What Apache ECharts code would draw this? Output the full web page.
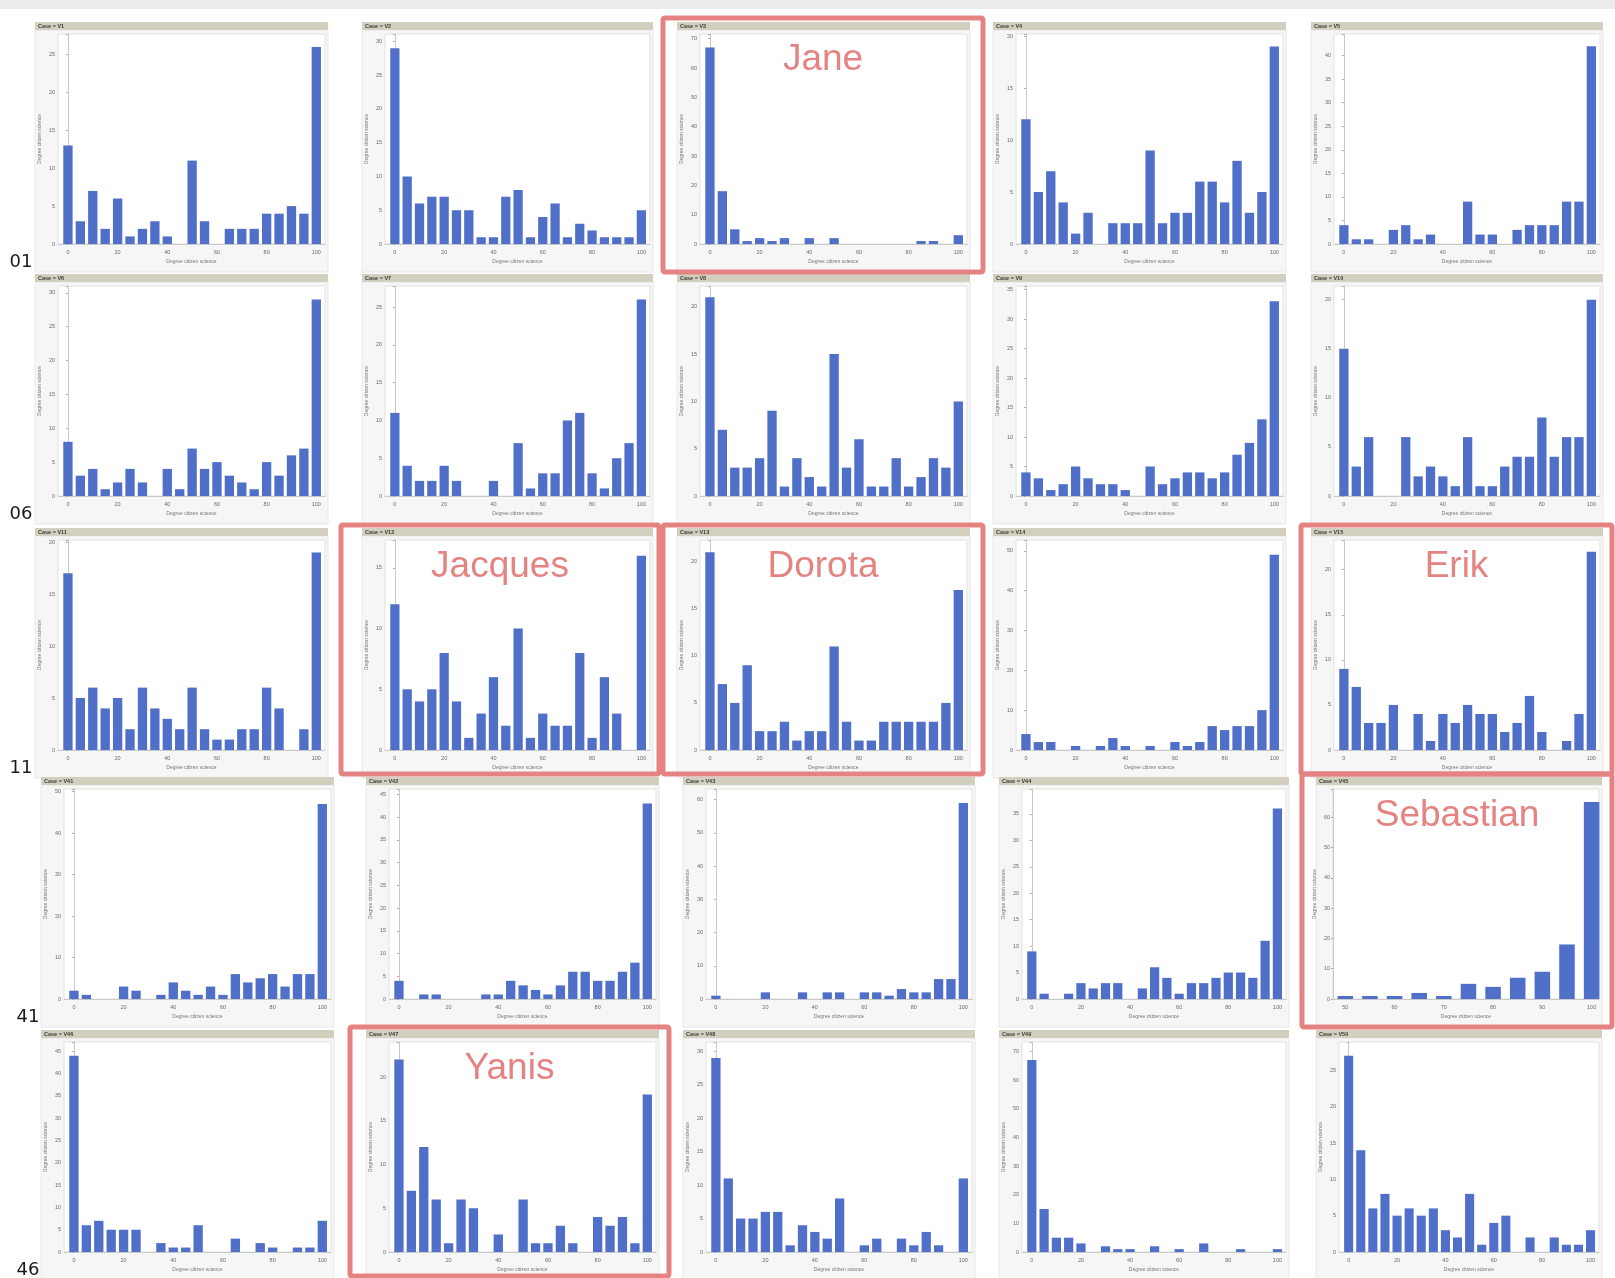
<!DOCTYPE html>
<html><head><meta charset="utf-8">
<script src="https://cdn.jsdelivr.net/npm/echarts@6/dist/echarts.min.js"></script>
<style>html,body{margin:0;padding:0;background:#fff}#c{width:1615px;height:1278px}</style>
</head><body><div id="c"></div>
<script>
// ---------- DATA ----------
const bins = [0,5,10,15,20,25,30,35,40,45,50,55,60,65,70,75,80,85,90,95,100];
const binsV45 = [50,55,60,65,70,75,80,85,90,95,100];
const xTicks = [0,20,40,60,80,100];
const xTicksV45 = [50,60,70,80,90,100];
const caseNames = ['V1','V2','V3','V4','V5','V6','V7','V8','V9','V10','V11','V12','V13','V14','V15',
                   'V41','V42','V43','V44','V45','V46','V47','V48','V49','V50'];
const rowLabels = ['01','06','11','41','46'];
const axisTitle = 'Degree citizen science';

const V1  = [13,3,7,2,6,1,2,3,1,0,11,3,0,2,2,2,4,4,5,4,26];
const V2  = [29,10,6,7,7,5,5,1,1,7,8,1,4,6,1,3,2,1,1,1,5];
const V3  = [67,18,5,1,2,1,2,0,2,0,2,0,0,0,0,0,0,1,1,0,3];
const V4  = [12,5,7,4,1,3,0,2,2,2,9,2,3,3,6,6,4,8,3,5,19];
const V5  = [4,1,1,0,3,4,1,2,0,0,9,2,2,0,3,4,4,4,9,9,42];
const V6  = [8,3,4,1,2,4,2,0,4,1,7,4,5,3,2,1,5,3,6,7,29];
const V7  = [11,4,2,2,4,2,0,0,2,0,7,1,3,3,10,11,3,1,5,7,26];
const V8  = [21,7,3,3,4,9,1,4,2,1,15,3,6,1,1,4,1,2,4,3,10];
const V9  = [4,3,1,2,5,3,2,2,1,0,5,2,3,4,4,3,4,7,9,13,33];
const V10 = [15,3,6,0,0,6,2,3,2,1,6,1,1,3,4,4,8,4,6,6,20];
const V11 = [17,5,6,4,5,2,6,4,3,2,6,2,1,1,2,2,6,4,0,2,19];
const V12 = [12,5,4,5,8,4,1,3,6,2,10,1,3,2,2,8,1,6,3,0,16];
const V13 = [21,7,5,9,2,2,3,1,2,2,11,3,1,1,3,3,3,3,3,5,17];
const V14 = [4,2,2,0,1,0,1,3,1,0,1,0,2,1,2,6,5,6,6,10,49];
const V15 = [9,7,3,3,5,0,4,1,4,3,5,4,4,2,3,6,2,0,1,4,22];
const V41 = [2,1,0,0,3,2,0,1,4,2,1,3,1,6,4,5,6,3,6,6,47];
const V42 = [4,0,1,1,0,0,0,1,1,4,3,2,1,3,6,6,4,4,6,8,43];
const V43 = [1,0,0,0,2,0,0,2,0,2,2,0,2,2,1,3,2,2,6,6,59];
const V44 = [9,1,0,1,3,2,3,3,0,2,6,4,1,3,3,4,5,5,4,11,36];
const V45 = [1,1,1,2,1,5,4,7,9,18,65];
const V46 = [44,6,7,5,5,5,0,2,1,1,6,0,0,3,0,2,1,0,1,1,7];
const V47 = [22,7,12,6,1,6,5,0,2,0,6,1,1,3,1,0,4,3,4,1,18];
const V48 = [29,11,5,5,6,6,1,4,3,2,8,0,1,2,0,2,1,3,1,0,11];
const V49 = [67,15,5,5,3,0,2,1,1,0,2,0,1,0,3,0,0,1,0,0,1];
const V50 = [27,14,6,8,5,6,5,6,3,2,8,1,4,5,0,2,0,2,1,1,3];

// y-axis tick step and top of each panel's value axis
const yStep = [5,5,10,5,5, 5,5,5,5,5, 5,5,5,10,5, 10,5,10,5,10, 5,5,5,10,5];
const yMax  = [27.7,31.1,71.6,20.2,44.6, 31,27.8,22.2,35.6,21.4, 20.2,17.3,22.3,52.7,23.3, 50.6,46.2,63.2,39.7,69.3, 47.1,24,31.4,73.3,28.9];

const highlightNames = {V3:'Jane', V12:'Jacques', V13:'Dorota', V15:'Erik', V45:'Sebastian', V47:'Yanis'};

const panelValues = [V1,V2,V3,V4,V5,V6,V7,V8,V9,V10,V11,V12,V13,V14,V15,V41,V42,V43,V44,V45,V46,V47,V48,V49,V50];

// ---------- LAYOUT ----------
const rowTop = [22, 274, 528, 777, 1030];
const colLeftA = [35, 362, 677, 993, 1311];
const colLeftB = [41, 366, 683, 999, 1316];
const colWidthA = [293, 291, 293, 293, 292];
const colWidthB = [293, 293, 292, 290, 286];
const boxRects = {
  V3:  [663, 18, 320, 254],
  V12: [341, 525, 318, 249],
  V13: [663, 525, 320, 249],
  V15: [1301, 525, 311, 249],
  V45: [1302, 774, 310, 253],
  V47: [350, 1027, 319, 249]
};
const BAR = '#4f6fc8';
const RED = '#e58383';
const FONT = 'Liberation Sans, Arial, sans-serif';

const chart = echarts.init(document.getElementById('c'), null, {renderer:'canvas'});
const grids = [], xAxes = [], yAxes = [], series = [], graphics = [];

graphics.push({type:'rect', shape:{x:0,y:0,width:1615,height:9}, style:{fill:'#ececec'}, z:-5, silent:true});

panelValues.forEach((vals, i) => {
  const r = Math.floor(i / 5), c = i % 5;
  const pl = r < 3 ? colLeftA[c] : colLeftB[c];
  const pw = r < 3 ? colWidthA[c] : colWidthB[c];
  const top = rowTop[r];
  const name = caseNames[i];
  const isHigh = name === 'V45';
  const xb = isHigh ? binsV45 : bins;
  const xmin = isHigh ? 47.5 : -4;
  const xmax = isHigh ? 101.5 : 103.5;
  const xint = isHigh ? 2.5 : 4;
  const ticks = isHigh ? xTicksV45 : xTicks;
  const gl = pl + (isHigh ? 17 : 23);
  const gr = pl + pw - 3;
  const gw = gr - gl;
  const gt = top + 12;
  const gh = 210;
  const pxPerUnit = gw / (xmax - xmin);
  const barW = (isHigh ? 0.63 : 0.75) * 5 * pxPerUnit;

  graphics.push({type:'rect', shape:{x:pl, y:top+8, width:pw, height:242}, style:{fill:'#f6f6f6', stroke:'#e8e8e8', lineWidth:1}, z:-4, silent:true});
  graphics.push({type:'rect', shape:{x:gl, y:gt, width:gw, height:gh}, style:{fill:'#ffffff', stroke:'#e2e2e2', lineWidth:1}, z:-3, silent:true});
  graphics.push({type:'rect', shape:{x:pl, y:top, width:pw, height:8}, style:{fill:'#d3cfbe'}, z:-2, silent:true});
  graphics.push({type:'text', x:pl+3, y:top+4, style:{text:'Case = ' + name, fontSize:5.5, fontWeight:'bold', fill:'#3a3a3a', fontFamily:FONT, verticalAlign:'middle'}, z:1, silent:true});

  grids.push({left:gl, top:gt, width:gw, height:gh, show:false, containLabel:false});
  xAxes.push({
    gridIndex:i, type:'value', min:xmin, max:xmax, interval:xint,
    axisLine:{show:true, onZero:false, lineStyle:{color:'#c9c9c9', width:1}},
    axisTick:{show:false}, splitLine:{show:false},
    axisLabel:{fontSize:5.5, color:'#6a6a6a', margin:5, fontFamily:FONT,
      formatter:v => ticks.some(t => Math.abs(t - v) < 1e-6) ? String(Math.round(v)) : ''},
    name:axisTitle, nameLocation:'middle', nameGap:15,
    nameTextStyle:{fontSize:5, color:'#777', fontFamily:FONT}
  });
  const step = yStep[i];
  yAxes.push({
    gridIndex:i, type:'value', min:0, max:yMax[i], interval:step,
    axisLine:{show:true, lineStyle:{color:'#c9c9c9', width:1}},
    axisTick:{show:true, length:2, lineStyle:{color:'#aaa'}}, splitLine:{show:false},
    axisLabel:{fontSize:5.5, color:'#6a6a6a', margin:3, fontFamily:FONT,
      formatter:v => Math.abs(v/step - Math.round(v/step)) < 1e-6 ? String(Math.round(v)) : ''},
    name:axisTitle, nameLocation:'middle', nameGap:16, nameRotate:90,
    nameTextStyle:{fontSize:5, color:'#777', fontFamily:FONT}
  });
  series.push({
    type:'bar', xAxisIndex:i, yAxisIndex:i, barWidth:barW, silent:true,
    itemStyle:{color:BAR},
    data: xb.map((b, k) => [b, vals[k]])
  });

  if (highlightNames[name]) {
    const br = boxRects[name];
    graphics.push({type:'rect', shape:{x:br[0], y:br[1], width:br[2], height:br[3], r:2},
      style:{fill:'none', stroke:RED, lineWidth:5}, z:50, silent:true});
    graphics.push({type:'text', x:br[0] + br[2]/2, y:br[1] + 42,
      style:{text:highlightNames[name], fontSize:37, fill:RED, fontFamily:FONT, align:'center', verticalAlign:'middle'}, z:51, silent:true});
  }
});

rowLabels.forEach((lab, r) => {
  graphics.push({type:'text', x: r < 3 ? 21 : 28, y: rowTop[r] + 240,
    style:{text:lab, fontSize:18, fill:'#1a1a1a', fontFamily:'DejaVu Sans, sans-serif', align:'center', verticalAlign:'middle'}, z:60, silent:true});
});

chart.setOption({
  animation:false,
  backgroundColor:'#ffffff',
  textStyle:{fontFamily:FONT},
  grid:grids, xAxis:xAxes, yAxis:yAxes, series:series,
  graphic:{elements:graphics}
});
</script>
</body></html>
